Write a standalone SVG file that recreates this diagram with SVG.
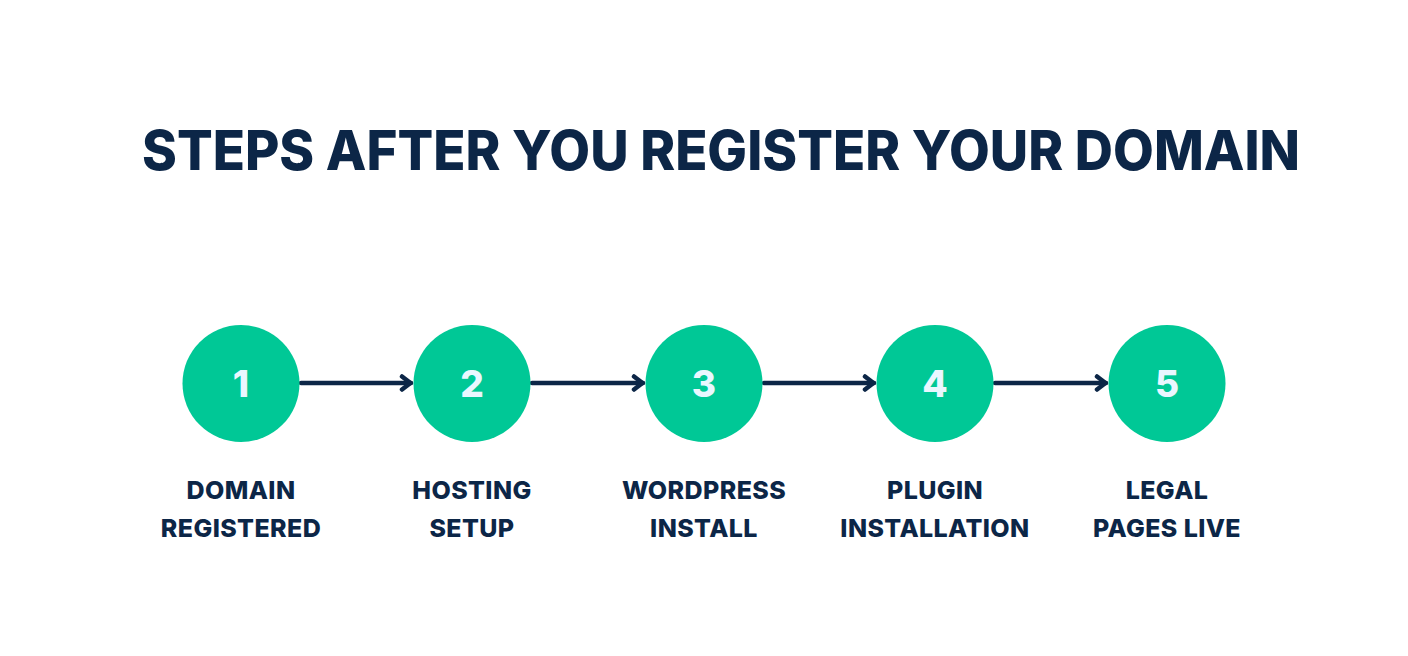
<svg xmlns="http://www.w3.org/2000/svg" width="1408" height="656" viewBox="0 0 1408 656">
<defs>
<style>
.title{font-family:Inter,"Liberation Sans",sans-serif;font-weight:800;font-size:55px;fill:#0c2647;text-anchor:middle}
.circ{fill:#00c896}
.num{font-family:Inter,"Liberation Sans",sans-serif;font-weight:800;font-size:37px;fill:#eaf7ff;text-anchor:middle}
.lbl{font-family:Inter,"Liberation Sans",sans-serif;font-weight:800;font-size:25px;fill:#0c2647;text-anchor:middle;letter-spacing:0.4px}
.conn{stroke:#0c2647;stroke-width:4.5;fill:none;stroke-linecap:round;stroke-linejoin:round}
</style>
<marker id="ah" viewBox="0 0 14 18" refX="12" refY="9" markerWidth="14" markerHeight="18" markerUnits="userSpaceOnUse" orient="auto">
<path d="M3,2.5 L11.5,9 L3,15.5" fill="none" stroke="#0c2647" stroke-width="4.5" stroke-linecap="round" stroke-linejoin="round"/>
</marker>
</defs>
<rect width="1408" height="656" fill="#ffffff"/>
<text class="title" x="721" y="170" textLength="1158" lengthAdjust="spacingAndGlyphs">STEPS AFTER YOU REGISTER YOUR DOMAIN</text>
<g id="connectors">
<line class="conn" x1="301" y1="383" x2="411" y2="383" marker-end="url(#ah)"/>
<line class="conn" x1="532" y1="383" x2="643" y2="383" marker-end="url(#ah)"/>
<line class="conn" x1="764" y1="383" x2="874" y2="383" marker-end="url(#ah)"/>
<line class="conn" x1="995" y1="383" x2="1106" y2="383" marker-end="url(#ah)"/>
</g>
<g id="step1">
<circle class="circ" cx="241" cy="383.5" r="58.5"/>
<text class="num" x="241" y="397">1</text>
<text class="lbl" x="241" y="499">DOMAIN</text>
<text class="lbl" x="241" y="537">REGISTERED</text>
</g>
<g id="step2">
<circle class="circ" cx="472" cy="383.5" r="58.5"/>
<text class="num" x="472" y="397">2</text>
<text class="lbl" x="472" y="499">HOSTING</text>
<text class="lbl" x="472" y="537">SETUP</text>
</g>
<g id="step3">
<circle class="circ" cx="704" cy="383.5" r="58.5"/>
<text class="num" x="704" y="397">3</text>
<text class="lbl" x="704" y="499">WORDPRESS</text>
<text class="lbl" x="704" y="537">INSTALL</text>
</g>
<g id="step4">
<circle class="circ" cx="935" cy="383.5" r="58.5"/>
<text class="num" x="935" y="397">4</text>
<text class="lbl" x="935" y="499">PLUGIN</text>
<text class="lbl" x="935" y="537">INSTALLATION</text>
</g>
<g id="step5">
<circle class="circ" cx="1167" cy="383.5" r="58.5"/>
<text class="num" x="1167" y="397">5</text>
<text class="lbl" x="1167" y="499">LEGAL</text>
<text class="lbl" x="1167" y="537">PAGES LIVE</text>
</g>
</svg>
